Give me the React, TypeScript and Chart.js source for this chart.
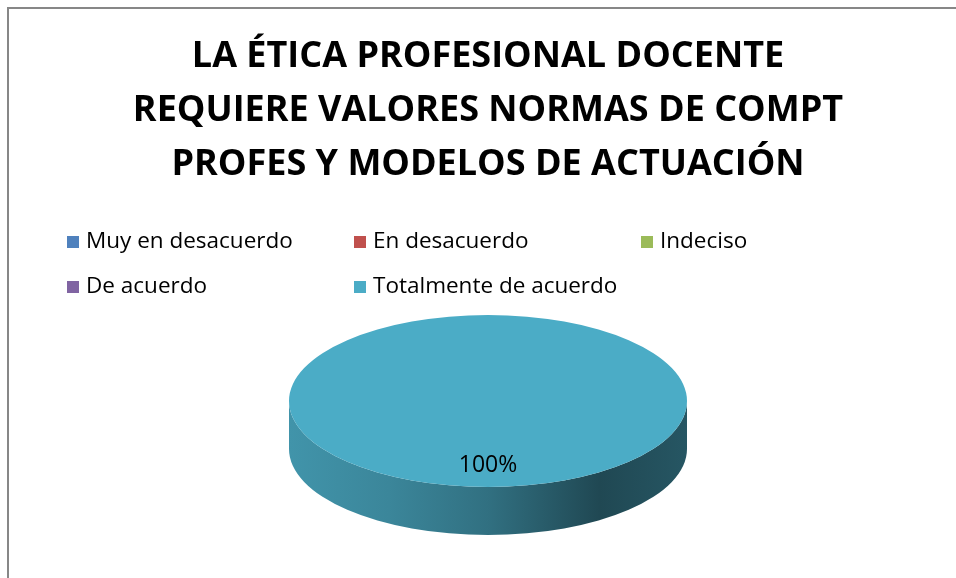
import React, { useEffect, useRef } from "react";
import { Chart, registerables } from "chart.js";

Chart.register(...registerables);

const titleLines = [
  "LA ÉTICA PROFESIONAL DOCENTE",
  "REQUIERE VALORES NORMAS DE COMPT",
  "PROFES Y MODELOS DE ACTUACIÓN",
];
const categories = [
  "Muy en desacuerdo",
  "En desacuerdo",
  "Indeciso",
  "De acuerdo",
  "Totalmente de acuerdo",
];
const values = [0, 0, 0, 0, 100];
const colors = ["#4F81BD", "#C0504D", "#9BBB59", "#8064A2", "#4BACC6"];

const TILT = 86 / 199;
const DEPTH = 48;

function shade(hex: string, f: number) {
  const n = parseInt(hex.slice(1), 16);
  const r = Math.round(((n >> 16) & 255) * f);
  const g = Math.round(((n >> 8) & 255) * f);
  const b = Math.round((n & 255) * f);
  return `rgb(${r},${g},${b})`;
}

const pie3d = {
  id: "pie3d",
  beforeDraw(chart: any) {
    const ctx = chart.ctx;
    ctx.save();
    ctx.fillStyle = "#fff";
    ctx.fillRect(0, 0, chart.width, chart.height);
    ctx.fillStyle = "#878787";
    ctx.fillRect(7, 7, chart.width, 2);
    ctx.fillRect(7, 7, 2, chart.height);
    ctx.restore();
  },
  beforeDatasetsDraw(chart: any) {
    const ctx = chart.ctx;
    const meta = chart.getDatasetMeta(0);
    const first = meta.data[0];
    const cx = first.x;
    const cy = first.y;
    const r = first.outerRadius;
    const ry = r * TILT;
    const ds = chart.data.datasets[0];
    meta.data.forEach((arc: any, i: number) => {
      const s = arc.startAngle;
      const e = arc.endAngle;
      if (e - s <= 0) return;
      for (let k = -1; k <= 1; k++) {
        const lo = Math.max(s, 2 * Math.PI * k);
        const hi = Math.min(e, Math.PI + 2 * Math.PI * k);
        if (hi <= lo) continue;
        const base = ds.backgroundColor[i];
        const g = ctx.createLinearGradient(cx - r, 0, cx + r, 0);
        g.addColorStop(0, shade(base, 0.86));
        g.addColorStop(0.25, shade(base, 0.78));
        g.addColorStop(0.5, shade(base, 0.65));
        g.addColorStop(0.78, shade(base, 0.42));
        g.addColorStop(1, shade(base, 0.5));
        ctx.save();
        ctx.beginPath();
        ctx.ellipse(cx, cy, r, ry, 0, lo, hi, false);
        ctx.ellipse(cx, cy + DEPTH, r, ry, 0, hi, lo, true);
        ctx.closePath();
        ctx.fillStyle = g;
        ctx.fill();
        ctx.restore();
      }
    });
    ctx.save();
    ctx.translate(cx, cy);
    ctx.scale(1, TILT);
    ctx.translate(-cx, -cy);
  },
  afterDatasetsDraw(chart: any) {
    const ctx = chart.ctx;
    ctx.restore();
    const meta = chart.getDatasetMeta(0);
    const data = chart.data.datasets[0].data as number[];
    const total = data.reduce((a, b) => a + b, 0);
    ctx.save();
    ctx.fillStyle = "#000";
    ctx.font = "23px 'Open Sans'";
    ctx.textAlign = "center";
    ctx.textBaseline = "middle";
    meta.data.forEach((arc: any, i: number) => {
      if (!data[i]) return;
      const mid = (arc.startAngle + arc.endAngle) / 2;
      const rr = arc.outerRadius * 0.75;
      const x = arc.x + rr * Math.cos(mid);
      const y = arc.y + rr * TILT * Math.sin(mid);
      ctx.fillText(Math.round((data[i] / total) * 100) + "%", x, y);
    });
    ctx.restore();
  },
  afterDraw(chart: any) {
    const ctx = chart.ctx;
    const labels = chart.data.labels as string[];
    const ds = chart.data.datasets[0];
    ctx.save();
    ctx.font = "22.5px 'Open Sans'";
    ctx.textBaseline = "middle";
    ctx.fillStyle = "#000";
    labels.forEach((lab, i) => {
      const col = i % 3;
      const row = Math.floor(i / 3);
      const x = 67 + col * 287;
      const y = 242 + row * 45;
      ctx.fillStyle = ds.backgroundColor[i];
      ctx.fillRect(x, y - 6, 12, 12);
      ctx.fillStyle = "#000";
      ctx.fillText(lab, x + 19, y);
    });
    ctx.restore();
  },
};

export default function App() {
  const ref = useRef<HTMLCanvasElement>(null);
  useEffect(() => {
    const chart = new Chart(ref.current!, {
      type: "pie",
      data: {
        labels: categories,
        datasets: [
          {
            data: values,
            backgroundColor: colors,
            borderWidth: 0,
            clip: false as any,
          },
        ],
      },
      options: {
        animation: false,
        responsive: false,
        radius: 199,
        layout: { padding: { left: 20, top: 0, right: 0, bottom: 0 } },
        plugins: {
          legend: { display: false },
          tooltip: { enabled: false },
          title: {
            display: true,
            text: titleLines,
            color: "#000",
            font: { family: "'Open Sans'", size: 36, weight: "bold", lineHeight: 54 / 36 },
            padding: { top: 30, bottom: 32 },
          },
        },
      } as any,
      plugins: [pie3d],
    });
    return () => chart.destroy();
  }, []);
  return (
    <div style={{ position: "fixed", left: 0, top: 0, width: 956, height: 578 }}>
      <canvas ref={ref} width={956} height={578} style={{ display: "block" }} />
    </div>
  );
}
